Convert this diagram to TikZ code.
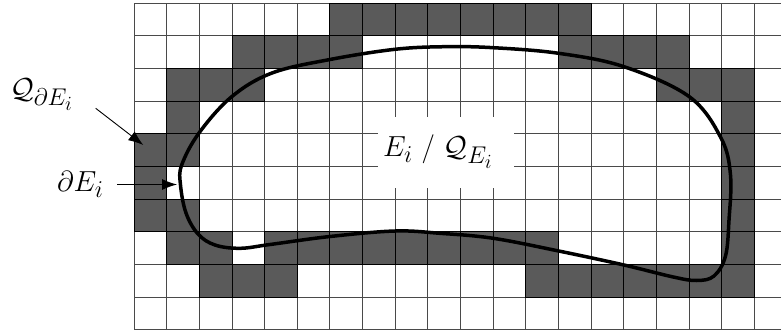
\documentclass[tikz,border=0pt]{standalone}
\usetikzlibrary{arrows.meta}
\definecolor{cellgray}{HTML}{5A5A5A}
\definecolor{gridgray}{HTML}{4A4A4A}
\newcommand{\bigtxt}[1]{\scalebox{1.1656}{\Huge #1}}
\tikzset{
  gridline/.style={draw=gridgray, line width=0.9pt},
  cellbox/.style={fill=cellgray, draw=black, line width=0.9pt},
  bigcurve/.style={draw=black, line width=3.5pt},
  pointer/.style={draw=black, line width=0.9pt, -{Latex[length=15pt,width=11pt]}},
  lbl/.style={inner sep=0pt},
}
\begin{document}
\begin{tikzpicture}[x=1pt,y=-1pt]
\useasboundingbox (0,0) rectangle (781,334);
\clip (0,0) rectangle (781,334);
% grid
\foreach \c in {0,...,20} \draw[gridline] ({134+32.65*\c},3.3) -- ({134+32.65*\c},329.8);
\foreach \r in {0,...,10} \draw[gridline] (134,{3.3+32.65*\r}) -- (800,{3.3+32.65*\r});
% shaded cells (column,row)
\foreach \c/\r in {6/0,7/0,8/0,9/0,10/0,11/0,12/0,13/0,
  3/1,4/1,5/1,6/1,13/1,14/1,15/1,16/1,
  1/2,2/2,3/2,16/2,17/2,18/2,
  1/3,18/3,
  0/4,1/4,18/4,
  0/5,18/5,
  0/6,1/6,18/6,
  1/7,2/7,4/7,5/7,6/7,7/7,8/7,9/7,10/7,11/7,12/7,18/7,
  2/8,3/8,4/8,12/8,13/8,14/8,15/8,16/8,17/8,18/8}
  \draw[cellbox] ({134+32.65*\c},{3.3+32.65*\r}) rectangle ++(32.65,32.65);
% label background
\node[fill=white, inner sep=0pt, minimum width=135.7pt, minimum height=71pt] (bg) at (446.2,152.8) {};
\node[lbl, anchor=base west] (ei) at (383,156.7) {\bigtxt{$E_i$ / $\mathcal{Q}_{E_i}$}};
% boundary curve
\draw[bigcurve] plot[smooth cycle, tension=0.6] coordinates {
 (181.7,165) (199,133) (231.7,96.7) (272,73) (330,59.5) (395,49.3) (445,46.7)
 (493.3,47.7) (558.7,53.3) (624,66.7) (689.3,96.7) (721,138) (730.5,175)
 (729,220) (725.5,256) (714,276) (696.7,280.5) (673.3,277) (624,265) (558.7,251)
 (493.3,238.3) (440,233.3) (395,231) (330,236.5) (270,244.5) (240,248.3)
 (215,245) (198,234) (186,213) (180.5,185)};
% labels and pointers
\node[lbl, anchor=base west] (qde) at (10,99) {\bigtxt{$\mathcal{Q}_{\partial E_i}$}};
\node[lbl, anchor=base west] (de) at (57,191.7) {\bigtxt{$\partial E_i$}};
\coordinate (qs) at (95.7,108.3);
\coordinate (qt) at (143.3,145);
\coordinate (ds) at (117,184.5);
\coordinate (dt) at (177,184.5);
\draw[pointer] (qs) -- (qt);
\draw[pointer] (ds) -- (dt);
\end{tikzpicture}
\end{document}
